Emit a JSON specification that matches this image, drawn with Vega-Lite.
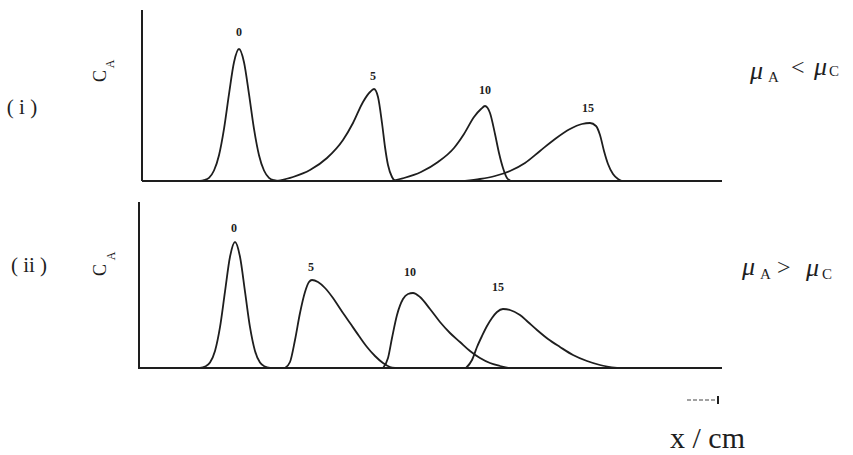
{
  "$schema": "https://vega.github.io/schema/vega-lite/v6.json",
  "background": "white",
  "padding": 0,
  "spacing": 0,
  "config": {"view": {"stroke": null}},
  "vconcat": [
    {
      "width": 853,
      "height": 200,
      "encoding": {
        "x": {"field": "x", "type": "quantitative", "scale": {"domain": [-7.1, 35.55], "nice": false, "zero": false}, "axis": null},
        "y": {"field": "y", "type": "quantitative", "scale": {"domain": [-1.9, 18.1], "nice": false, "zero": false}, "axis": null}
      },
      "layer": [
        {
          "data": {"values": [{"x": 0, "x2": 0, "y": 0, "y2": 17.1}, {"x": 0, "x2": 29, "y": 0, "y2": 0}]},
          "mark": {"type": "rule", "color": "#1e1e1e", "strokeWidth": 2},
          "encoding": {"x2": {"field": "x2"}, "y2": {"field": "y2"}}
        },
        {
          "data": {"values": [
            {"peak": "0", "x": 2.9, "y": 0}, {"peak": "0", "x": 3.1, "y": 0.08}, {"peak": "0", "x": 3.35, "y": 0.32}, {"peak": "0", "x": 3.6, "y": 1.05}, {"peak": "0", "x": 3.85, "y": 2.58}, {"peak": "0", "x": 4.1, "y": 5.22}, {"peak": "0", "x": 4.35, "y": 8.69}, {"peak": "0", "x": 4.6, "y": 11.88}, {"peak": "0", "x": 4.85, "y": 13.2}, {"peak": "0", "x": 5.1, "y": 11.88}, {"peak": "0", "x": 5.35, "y": 8.69}, {"peak": "0", "x": 5.6, "y": 5.22}, {"peak": "0", "x": 5.85, "y": 2.58}, {"peak": "0", "x": 6.1, "y": 1.05}, {"peak": "0", "x": 6.35, "y": 0.32}, {"peak": "0", "x": 6.6, "y": 0.08}, {"peak": "0", "x": 6.9, "y": 0},
            {"peak": "5", "x": 6.8, "y": 0}, {"peak": "5", "x": 7.55, "y": 0.4}, {"peak": "5", "x": 8.4, "y": 1.1}, {"peak": "5", "x": 9.25, "y": 2.3}, {"peak": "5", "x": 10.05, "y": 4.1}, {"peak": "5", "x": 10.55, "y": 5.8}, {"peak": "5", "x": 11.05, "y": 7.9}, {"peak": "5", "x": 11.4, "y": 8.9}, {"peak": "5", "x": 11.6, "y": 9.2}, {"peak": "5", "x": 11.8, "y": 8.4}, {"peak": "5", "x": 12.0, "y": 5.8}, {"peak": "5", "x": 12.15, "y": 3.4}, {"peak": "5", "x": 12.3, "y": 1.6}, {"peak": "5", "x": 12.5, "y": 0.4}, {"peak": "5", "x": 12.65, "y": 0},
            {"peak": "10", "x": 12.5, "y": 0}, {"peak": "10", "x": 13.1, "y": 0.3}, {"peak": "10", "x": 13.95, "y": 0.9}, {"peak": "10", "x": 14.8, "y": 1.9}, {"peak": "10", "x": 15.6, "y": 3.3}, {"peak": "10", "x": 16.1, "y": 4.7}, {"peak": "10", "x": 16.6, "y": 6.4}, {"peak": "10", "x": 16.95, "y": 7.2}, {"peak": "10", "x": 17.15, "y": 7.5}, {"peak": "10", "x": 17.4, "y": 6.8}, {"peak": "10", "x": 17.65, "y": 4.7}, {"peak": "10", "x": 17.85, "y": 2.8}, {"peak": "10", "x": 18.05, "y": 1.3}, {"peak": "10", "x": 18.25, "y": 0.3}, {"peak": "10", "x": 18.45, "y": 0},
            {"peak": "15", "x": 16.15, "y": 0}, {"peak": "15", "x": 16.9, "y": 0.2}, {"peak": "15", "x": 17.65, "y": 0.5}, {"peak": "15", "x": 18.4, "y": 1.0}, {"peak": "15", "x": 19.15, "y": 1.8}, {"peak": "15", "x": 19.9, "y": 3.0}, {"peak": "15", "x": 20.65, "y": 4.2}, {"peak": "15", "x": 21.4, "y": 5.2}, {"peak": "15", "x": 22.0, "y": 5.7}, {"peak": "15", "x": 22.4, "y": 5.8}, {"peak": "15", "x": 22.7, "y": 5.5}, {"peak": "15", "x": 22.9, "y": 4.6}, {"peak": "15", "x": 23.1, "y": 3.0}, {"peak": "15", "x": 23.3, "y": 1.7}, {"peak": "15", "x": 23.55, "y": 0.7}, {"peak": "15", "x": 23.8, "y": 0.2}, {"peak": "15", "x": 24.0, "y": 0}
          ]},
          "mark": {"type": "line", "interpolate": "monotone", "color": "#1e1e1e", "strokeWidth": 1.8},
          "encoding": {"detail": {"field": "peak"}}
        },
        {
          "data": {"values": [{"label": "0", "x": 4.85, "y": 14.9}, {"label": "5", "x": 11.55, "y": 10.5}, {"label": "10", "x": 17.15, "y": 9.1}, {"label": "15", "x": 22.3, "y": 7.3}]},
          "mark": {"type": "text", "font": "Liberation Serif", "fontSize": 12, "fontWeight": "bold", "color": "#1e1e1e", "baseline": "middle", "align": "center"},
          "encoding": {"text": {"field": "label"}}
        },
        {
          "data": {"values": [{"label": "( i )", "x": -6.0, "y": 7.3}]},
          "mark": {"type": "text", "font": "Liberation Serif", "fontSize": 21, "color": "#1e1e1e", "baseline": "middle", "align": "center"},
          "encoding": {"text": {"field": "label"}}
        },
        {
          "data": {"values": [{"label": "C", "x": -2.05, "y": 10.5}]},
          "mark": {"type": "text", "font": "Liberation Serif", "fontSize": 18, "angle": 270, "color": "#1e1e1e", "baseline": "middle", "align": "center"},
          "encoding": {"text": {"field": "label"}}
        },
        {
          "data": {"values": [{"label": "A", "x": -1.6, "y": 11.7}]},
          "mark": {"type": "text", "font": "Liberation Serif", "fontSize": 12, "angle": 270, "color": "#1e1e1e", "baseline": "middle", "align": "center"},
          "encoding": {"text": {"field": "label"}}
        },
        {
          "data": {"values": [{"label": "μ", "x": 30.4, "y": 10.2}, {"label": "μ", "x": 33.6, "y": 10.6}]},
          "mark": {"type": "text", "font": "Liberation Serif", "fontSize": 26, "fontStyle": "italic", "color": "#1e1e1e", "baseline": "alphabetic", "align": "left"},
          "encoding": {"text": {"field": "label"}}
        },
        {
          "data": {"values": [{"label": "A", "x": 31.3, "y": 9.9}, {"label": "C", "x": 34.35, "y": 10.5}]},
          "mark": {"type": "text", "font": "Liberation Serif", "fontSize": 15, "color": "#1e1e1e", "baseline": "alphabetic", "align": "left"},
          "encoding": {"text": {"field": "label"}}
        },
        {
          "data": {"values": [{"label": "<", "x": 32.45, "y": 10.6}]},
          "mark": {"type": "text", "font": "Liberation Serif", "fontSize": 24, "color": "#1e1e1e", "baseline": "alphabetic", "align": "left"},
          "encoding": {"text": {"field": "label"}}
        }
      ]
    },
    {
      "width": 853,
      "height": 255,
      "encoding": {
        "x": {"field": "x", "type": "quantitative", "scale": {"domain": [-7.1, 35.55], "nice": false, "zero": false}, "axis": null},
        "y": {"field": "y", "type": "quantitative", "scale": {"domain": [-8.7, 16.8], "nice": false, "zero": false}, "axis": null}
      },
      "layer": [
        {
          "data": {"values": [{"x": -0.15, "x2": -0.15, "y": 0, "y2": 16.6}, {"x": -0.2, "x2": 29, "y": 0, "y2": 0}, {"x": 28.8, "x2": 28.8, "y": -2.8, "y2": -3.6}]},
          "mark": {"type": "rule", "color": "#1e1e1e", "strokeWidth": 2},
          "encoding": {"x2": {"field": "x2"}, "y2": {"field": "y2"}}
        },
        {
          "data": {"values": [{"x": 27.25, "x2": 28.75, "y": -3.2, "y2": -3.2}]},
          "mark": {"type": "rule", "color": "#444444", "strokeWidth": 1.2, "strokeDash": [4, 2]},
          "encoding": {"x2": {"field": "x2"}, "y2": {"field": "y2"}}
        },
        {
          "data": {"values": [
            {"peak": "0", "x": 2.9, "y": 0}, {"peak": "0", "x": 3.15, "y": 0.14}, {"peak": "0", "x": 3.4, "y": 0.55}, {"peak": "0", "x": 3.65, "y": 1.71}, {"peak": "0", "x": 3.9, "y": 4.09}, {"peak": "0", "x": 4.15, "y": 7.64}, {"peak": "0", "x": 4.4, "y": 11.12}, {"peak": "0", "x": 4.65, "y": 12.6}, {"peak": "0", "x": 4.9, "y": 11.12}, {"peak": "0", "x": 5.15, "y": 7.64}, {"peak": "0", "x": 5.4, "y": 4.09}, {"peak": "0", "x": 5.65, "y": 1.71}, {"peak": "0", "x": 5.9, "y": 0.55}, {"peak": "0", "x": 6.15, "y": 0.14}, {"peak": "0", "x": 6.4, "y": 0},
            {"peak": "5", "x": 7.15, "y": 0}, {"peak": "5", "x": 7.4, "y": 0.6}, {"peak": "5", "x": 7.65, "y": 2.8}, {"peak": "5", "x": 7.9, "y": 5.5}, {"peak": "5", "x": 8.15, "y": 7.6}, {"peak": "5", "x": 8.35, "y": 8.6}, {"peak": "5", "x": 8.5, "y": 8.8}, {"peak": "5", "x": 8.8, "y": 8.6}, {"peak": "5", "x": 9.15, "y": 8.0}, {"peak": "5", "x": 9.55, "y": 7.0}, {"peak": "5", "x": 9.95, "y": 5.8}, {"peak": "5", "x": 10.4, "y": 4.5}, {"peak": "5", "x": 10.85, "y": 3.2}, {"peak": "5", "x": 11.25, "y": 2.1}, {"peak": "5", "x": 11.65, "y": 1.2}, {"peak": "5", "x": 12.05, "y": 0.5}, {"peak": "5", "x": 12.4, "y": 0.1}, {"peak": "5", "x": 12.65, "y": 0},
            {"peak": "10", "x": 12.05, "y": 0}, {"peak": "10", "x": 12.3, "y": 1.0}, {"peak": "10", "x": 12.5, "y": 3.0}, {"peak": "10", "x": 12.75, "y": 5.3}, {"peak": "10", "x": 13.05, "y": 6.9}, {"peak": "10", "x": 13.3, "y": 7.4}, {"peak": "10", "x": 13.55, "y": 7.5}, {"peak": "10", "x": 13.9, "y": 7.1}, {"peak": "10", "x": 14.4, "y": 5.9}, {"peak": "10", "x": 14.9, "y": 4.6}, {"peak": "10", "x": 15.4, "y": 3.5}, {"peak": "10", "x": 15.9, "y": 2.6}, {"peak": "10", "x": 16.4, "y": 1.7}, {"peak": "10", "x": 16.9, "y": 1.0}, {"peak": "10", "x": 17.4, "y": 0.5}, {"peak": "10", "x": 17.9, "y": 0.2}, {"peak": "10", "x": 18.3, "y": 0},
            {"peak": "15", "x": 16.2, "y": 0}, {"peak": "15", "x": 16.5, "y": 0.8}, {"peak": "15", "x": 16.75, "y": 2.1}, {"peak": "15", "x": 17.0, "y": 3.2}, {"peak": "15", "x": 17.25, "y": 4.2}, {"peak": "15", "x": 17.5, "y": 5.0}, {"peak": "15", "x": 17.75, "y": 5.6}, {"peak": "15", "x": 18.05, "y": 5.9}, {"peak": "15", "x": 18.4, "y": 5.8}, {"peak": "15", "x": 18.9, "y": 5.3}, {"peak": "15", "x": 19.3, "y": 4.6}, {"peak": "15", "x": 19.75, "y": 3.8}, {"peak": "15", "x": 20.3, "y": 2.9}, {"peak": "15", "x": 20.9, "y": 2.1}, {"peak": "15", "x": 21.55, "y": 1.3}, {"peak": "15", "x": 22.25, "y": 0.7}, {"peak": "15", "x": 22.9, "y": 0.3}, {"peak": "15", "x": 23.75, "y": 0}
          ]},
          "mark": {"type": "line", "interpolate": "monotone", "color": "#1e1e1e", "strokeWidth": 1.8},
          "encoding": {"detail": {"field": "peak"}}
        },
        {
          "data": {"values": [{"label": "0", "x": 4.6, "y": 14.0}, {"label": "5", "x": 8.45, "y": 10.1}, {"label": "10", "x": 13.4, "y": 9.6}, {"label": "15", "x": 17.8, "y": 8.1}]},
          "mark": {"type": "text", "font": "Liberation Serif", "fontSize": 12, "fontWeight": "bold", "color": "#1e1e1e", "baseline": "middle", "align": "center"},
          "encoding": {"text": {"field": "label"}}
        },
        {
          "data": {"values": [{"label": "( ii )", "x": -5.65, "y": 10.2}]},
          "mark": {"type": "text", "font": "Liberation Serif", "fontSize": 21, "color": "#1e1e1e", "baseline": "middle", "align": "center"},
          "encoding": {"text": {"field": "label"}}
        },
        {
          "data": {"values": [{"label": "C", "x": -2.05, "y": 9.8}]},
          "mark": {"type": "text", "font": "Liberation Serif", "fontSize": 18, "angle": 270, "color": "#1e1e1e", "baseline": "middle", "align": "center"},
          "encoding": {"text": {"field": "label"}}
        },
        {
          "data": {"values": [{"label": "A", "x": -1.55, "y": 11.2}]},
          "mark": {"type": "text", "font": "Liberation Serif", "fontSize": 12, "angle": 270, "color": "#1e1e1e", "baseline": "middle", "align": "center"},
          "encoding": {"text": {"field": "label"}}
        },
        {
          "data": {"values": [{"label": "μ", "x": 30.0, "y": 9.3}, {"label": "μ", "x": 33.2, "y": 9.2}]},
          "mark": {"type": "text", "font": "Liberation Serif", "fontSize": 26, "fontStyle": "italic", "color": "#1e1e1e", "baseline": "alphabetic", "align": "left"},
          "encoding": {"text": {"field": "label"}}
        },
        {
          "data": {"values": [{"label": "A", "x": 30.9, "y": 8.9}, {"label": "C", "x": 34.0, "y": 8.9}]},
          "mark": {"type": "text", "font": "Liberation Serif", "fontSize": 15, "color": "#1e1e1e", "baseline": "alphabetic", "align": "left"},
          "encoding": {"text": {"field": "label"}}
        },
        {
          "data": {"values": [{"label": ">", "x": 31.75, "y": 9.3}]},
          "mark": {"type": "text", "font": "Liberation Serif", "fontSize": 24, "color": "#1e1e1e", "baseline": "alphabetic", "align": "left"},
          "encoding": {"text": {"field": "label"}}
        },
        {
          "data": {"values": [{"label": "x / cm", "x": 26.4, "y": -8.0}]},
          "mark": {"type": "text", "font": "Liberation Serif", "fontSize": 30, "color": "#1e1e1e", "baseline": "alphabetic", "align": "left"},
          "encoding": {"text": {"field": "label"}}
        }
      ]
    }
  ]
}
